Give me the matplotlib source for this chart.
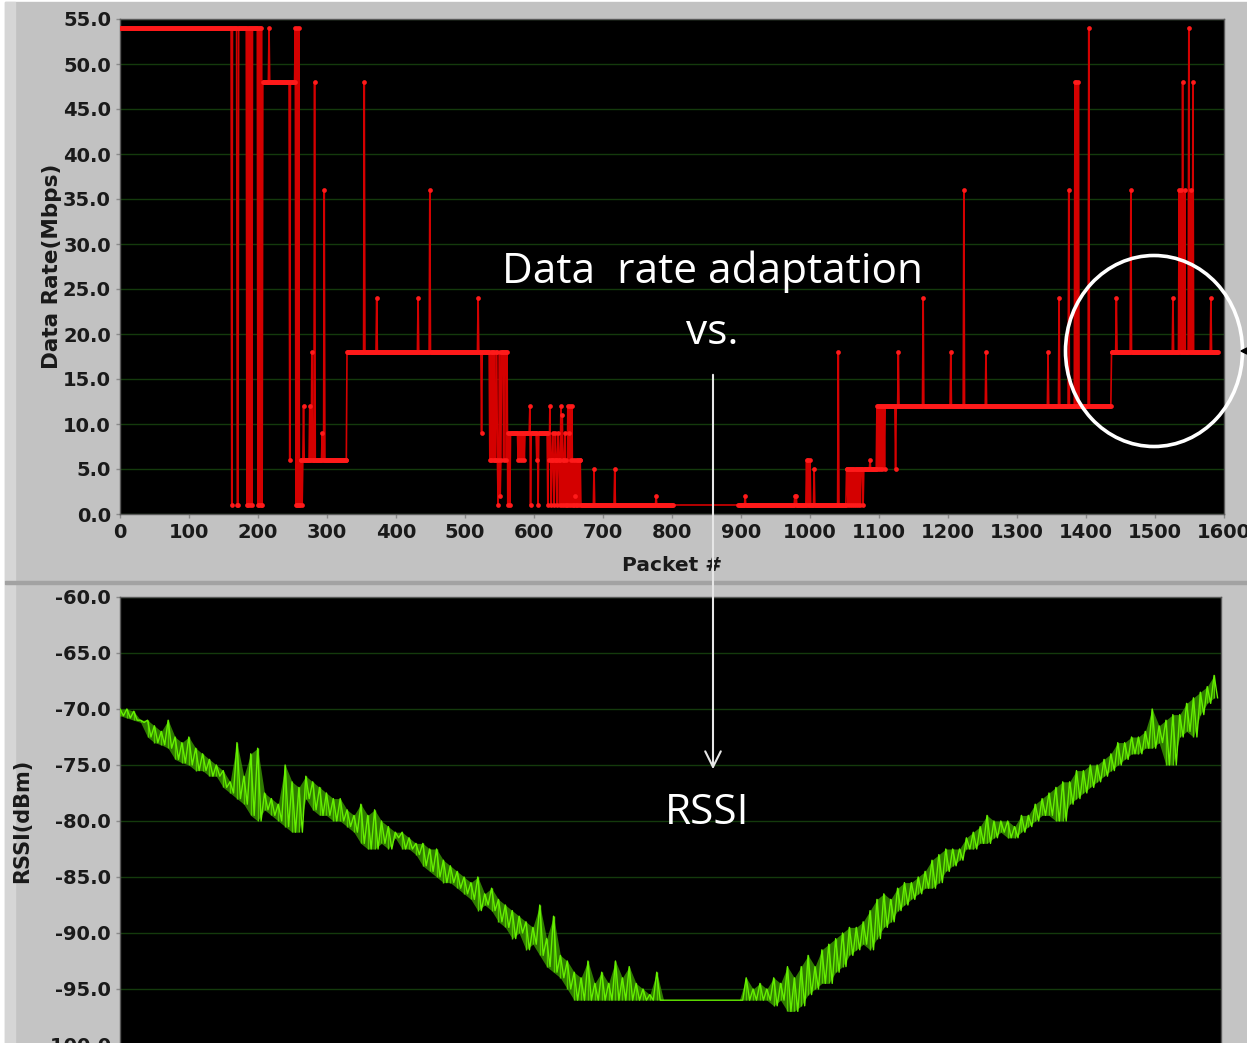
import matplotlib
matplotlib.use("Agg")
import matplotlib.pyplot as plt
from matplotlib.patches import Rectangle, Ellipse, Polygon
from matplotlib.ticker import FormatStrFormatter, MultipleLocator

plt.rcParams['axes.unicode_minus'] = False

# ---- data rate (Mbps) per packet: base runs + single-packet excursions ----
rate_runs = [
    (0, 207, 54), (207, 262, 48), (262, 329, 6), (329, 563, 18),
    (563, 620, 9), (620, 668, 6), (668, 802, 1), (896, 1053, 1),
    (1053, 1097, 5), (1097, 1437, 12), (1437, 1592, 18),
]
rate_spikes = {
    162: 1, 170: 1, 171: 1, 184: 1, 186: 1, 188: 1, 191: 1,
    200: 1, 202: 1, 204: 1, 206: 1,
    216: 54, 246: 6, 254: 54, 255: 1, 256: 54, 257: 1, 258: 1, 259: 54,
    260: 1, 261: 1,
    264: 1, 266: 12, 275: 12, 278: 18, 282: 48, 293: 9, 296: 36,
    354: 48, 372: 24, 432: 24, 449: 36, 519: 24, 524: 9,
    536: 6, 538: 6, 541: 6, 543: 6, 544: 6, 547: 6, 548: 1, 549: 6,
    551: 2, 552: 6, 556: 6, 560: 6, 562: 1,
    565: 1, 577: 6, 580: 6, 583: 6, 586: 6, 594: 12, 595: 1, 604: 6, 606: 1,
    620: 1, 621: 9, 623: 12, 625: 1, 627: 9, 629: 1, 631: 9, 633: 1,
    635: 9, 637: 1, 639: 12, 640: 1, 641: 11, 643: 1, 645: 9, 646: 1,
    648: 1, 649: 12, 650: 1, 651: 9, 652: 12, 653: 1, 655: 12, 656: 1,
    658: 1, 659: 2, 661: 1, 663: 1, 665: 1,
    687: 5, 717: 5, 777: 2,
    906: 2, 978: 2, 980: 2, 995: 6, 997: 6, 1000: 6, 1006: 5, 1041: 18,
    1055: 1, 1058: 1, 1061: 1, 1064: 1, 1067: 1, 1070: 1, 1073: 1, 1077: 1,
    1087: 6,
    1099: 5, 1102: 5, 1105: 5, 1108: 5, 1124: 5, 1128: 18, 1164: 24,
    1204: 18, 1223: 36, 1255: 18, 1345: 18, 1361: 24, 1375: 36,
    1384: 48, 1386: 48, 1389: 48, 1404: 54,
    1444: 24, 1465: 36, 1526: 24, 1535: 36, 1537: 36, 1540: 48, 1543: 36,
    1549: 54, 1552: 36, 1555: 48, 1581: 24,
}

# ---- RSSI (dBm): upper / lower edge of the noisy trace every 10 packets ----
rssi_packet = list(range(0, 1600, 10))
rssi_hi = [
    -70.0, -70.0, -70.2, -71.0, -71.0, -71.5, -72.0, -71.0, -72.5, -73.0,
    -72.5, -73.5, -74.0, -74.5, -75.0, -75.5, -76.5, -73.0, -76.0, -74.0,
    -73.5, -77.5, -78.0, -78.5, -75.0, -76.5, -77.0, -76.0, -76.5, -77.0,
    -77.5, -78.0, -78.0, -79.0, -79.5, -78.5, -79.5, -79.0, -80.0, -80.5,
    -81.0, -81.0, -81.5, -82.0, -82.0, -82.5, -82.5, -83.5, -84.0, -84.5,
    -85.0, -85.5, -85.0, -86.5, -86.0, -87.0, -87.5, -88.0, -88.5, -89.0,
    -89.5, -87.5, -90.5, -88.5, -92.0, -92.5, -93.5, -94.0, -92.5, -94.5,
    -93.5, -94.5, -92.5, -94.0, -93.0, -94.5, -95.0, -95.5, -93.5, -96.0,
    -96.0, -96.0, -96.0, -96.0, -96.0, -96.0, -96.0, -96.0, -96.0, -96.0,
    -96.0, -94.0, -95.0, -94.5, -95.0, -94.0, -94.5, -93.0, -94.0, -93.0,
    -92.0, -93.0, -91.5, -91.0, -90.5, -90.0, -89.5, -89.5, -89.0, -88.0,
    -87.0, -86.5, -87.0, -86.0, -85.5, -85.5, -85.0, -84.5, -83.5, -83.0,
    -82.5, -82.5, -82.5, -81.5, -81.0, -80.5, -79.5, -80.0, -80.0, -80.0,
    -80.5, -79.5, -79.5, -78.5, -78.0, -77.5, -77.0, -76.5, -76.5, -75.5,
    -75.5, -75.0, -75.0, -74.5, -74.0, -73.0, -73.0, -72.5, -72.5, -72.0,
    -70.0, -71.5, -71.0, -70.5, -70.5, -69.5, -69.0, -68.5, -68.0, -67.0,
]
rssi_lo = [
    -70.6, -70.8, -71.0, -71.2, -72.5, -73.0, -73.2, -73.5, -74.5, -74.8,
    -75.0, -75.5, -75.5, -76.0, -76.0, -77.0, -77.5, -78.0, -78.5, -79.5,
    -80.0, -79.0, -79.5, -80.0, -80.5, -81.0, -81.0, -78.0, -79.0, -79.5,
    -79.5, -80.0, -80.0, -80.5, -81.0, -82.0, -82.5, -82.5, -82.0, -82.5,
    -81.5, -82.5, -82.5, -83.0, -84.0, -84.5, -85.0, -85.5, -85.5, -86.0,
    -86.5, -87.0, -88.0, -87.5, -88.0, -89.0, -89.5, -90.5, -90.0, -91.5,
    -91.0, -92.0, -93.0, -93.5, -94.0, -95.0, -96.0, -96.0, -96.0, -96.0,
    -96.0, -96.0, -96.0, -96.0, -96.0, -96.0, -96.0, -96.0, -96.0, -96.0,
    -96.0, -96.0, -96.0, -96.0, -96.0, -96.0, -96.0, -96.0, -96.0, -96.0,
    -96.0, -96.0, -96.0, -96.0, -96.0, -96.5, -96.0, -97.0, -97.0, -96.5,
    -95.5, -95.0, -94.5, -94.5, -93.5, -93.0, -92.0, -91.5, -91.0, -91.5,
    -90.5, -89.5, -89.0, -88.0, -87.5, -87.0, -86.5, -86.0, -86.0, -85.5,
    -84.5, -84.0, -83.5, -82.5, -82.5, -82.0, -82.0, -81.5, -81.0, -81.5,
    -81.5, -81.0, -80.5, -80.0, -79.5, -79.5, -80.0, -80.0, -78.5, -78.0,
    -77.5, -77.0, -76.5, -76.0, -75.5, -75.0, -74.5, -74.0, -74.0, -73.5,
    -73.5, -73.0, -75.0, -75.0, -72.5, -72.0, -72.5, -70.5, -69.5, -69.0,
]

W, H = 1247, 1043


def fx(px):
    return px / W


def fy(py):
    return 1 - py / H


def style_axes(ax):
    ax.set_facecolor('black')
    for s in ax.spines.values():
        s.set_color('#5a5a5a')
        s.set_linewidth(1.0)
    ax.grid(True, axis='y', color='#143a0c', linewidth=1.0)
    ax.set_axisbelow(True)
    ax.tick_params(colors='#8a8a8a', length=3, width=1, labelcolor='#1a1a1a',
                   labelsize=14)
    for lab in ax.get_xticklabels() + ax.get_yticklabels():
        lab.set_fontweight('bold')


def main() -> None:
    fig = plt.figure(figsize=(W / 100, H / 100), dpi=100, facecolor='white')

    # panel backgrounds
    fig.add_artist(Rectangle((fx(5), fy(581)), fx(1242), 579 / H,
                             transform=fig.transFigure, color='#c2c2c2', zorder=-5))
    fig.add_artist(Rectangle((fx(5), 0), fx(1242), fy(584),
                             transform=fig.transFigure, color='#c4c4c4', zorder=-5))
    fig.add_artist(Rectangle((fx(5), 0), fx(10), fy(2),
                             transform=fig.transFigure, color='#d6d6d6', zorder=-4))
    fig.add_artist(Rectangle((fx(5), fy(584)), fx(1242), 3 / H,
                             transform=fig.transFigure, color='#a2a2a2', zorder=-4))

    # ---- top: data rate ----
    packets, rates = [], []
    for start, end, rate in rate_runs:
        for p in range(start, end):
            packets.append(p)
            rates.append(rate_spikes.get(p, rate))

    ax1 = fig.add_axes([fx(120), fy(514), fx(1224) - fx(120), fy(19) - fy(514)])
    ax1.plot(packets, rates, color='#d40000', linewidth=1.2, zorder=3)
    ax1.plot(packets, rates, linestyle='none', marker='o', markersize=3.4,
             markerfacecolor='#ff1a1a', markeredgewidth=0, zorder=4)
    ax1.set_xlim(0, 1600)
    ax1.set_ylim(0, 55)
    ax1.xaxis.set_major_locator(MultipleLocator(100))
    ax1.yaxis.set_major_locator(MultipleLocator(5))
    ax1.yaxis.set_major_formatter(FormatStrFormatter('%.1f'))
    style_axes(ax1)
    ax1.set_xlabel('Packet #', fontsize=14.5, fontweight='bold', color='#1a1a1a',
                   labelpad=10)
    ax1.set_ylabel('Data Rate(Mbps)', fontsize=15.5, fontweight='bold',
                   color='#1a1a1a', labelpad=1)

    # ---- bottom: RSSI ----
    zx, zy = [], []
    for p, hi, lo in zip(rssi_packet, rssi_hi, rssi_lo):
        zx += [p, p + 5]
        zy += [hi, lo]

    ax2 = fig.add_axes([fx(120), fy(1045), fx(1221) - fx(120), fy(597) - fy(1045)])
    ax2.fill_between(rssi_packet, rssi_lo, rssi_hi, color='#3c9a00', linewidth=0,
                     alpha=0.8, zorder=2)
    ax2.vlines(rssi_packet, rssi_lo, rssi_hi, color='#55cc00', linewidth=1.0, zorder=3)
    ax2.plot(zx, zy, color='#66f000', linewidth=1.0, zorder=4)
    ax2.set_xlim(0, 1600)
    ax2.set_ylim(-100, -60)
    ax2.yaxis.set_major_locator(MultipleLocator(5))
    ax2.yaxis.set_major_formatter(FormatStrFormatter('%.1f'))
    ax2.set_xticks([])
    style_axes(ax2)
    ax2.set_ylabel('RSSI(dBm)', fontsize=15, fontweight='bold', color='#1a1a1a',
                   labelpad=7)

    # ---- overlay annotations ----
    fig.text(fx(712), fy(272), 'Data  rate adaptation', color='white',
             fontsize=30.5, family='Open Sans', ha='center', va='center', zorder=6)
    fig.text(fx(712), fy(333), 'vs.', color='white', fontsize=30.5,
             family='Open Sans', ha='center', va='center', zorder=6)
    fig.text(fx(707), fy(813), 'RSSI', color='white', fontsize=30.5,
             family='Open Sans', ha='center', va='center', zorder=6)
    fig.add_artist(plt.Annotation('', xy=(fx(713), fy(772)), xytext=(fx(713), fy(372)),
                                  xycoords='figure fraction', textcoords='figure fraction',
                                  arrowprops=dict(arrowstyle='->', color='#e6e6e6',
                                                  lw=1.5, mutation_scale=28),
                                  zorder=6))
    fig.add_artist(Ellipse((fx(1154), fy(351)), 177 / W, 191 / H,
                           transform=fig.transFigure, fill=False,
                           edgecolor='white', linewidth=2.6, zorder=6))
    fig.add_artist(Polygon([(fx(1241), fy(351)), (fx(1247), fy(348)), (fx(1247), fy(354))],
                           closed=True, transform=fig.transFigure,
                           color='black', zorder=6))

    fig.savefig('out.png', dpi=100, facecolor=fig.get_facecolor())
    plt.close(fig)


if __name__ == "__main__":
    main()
